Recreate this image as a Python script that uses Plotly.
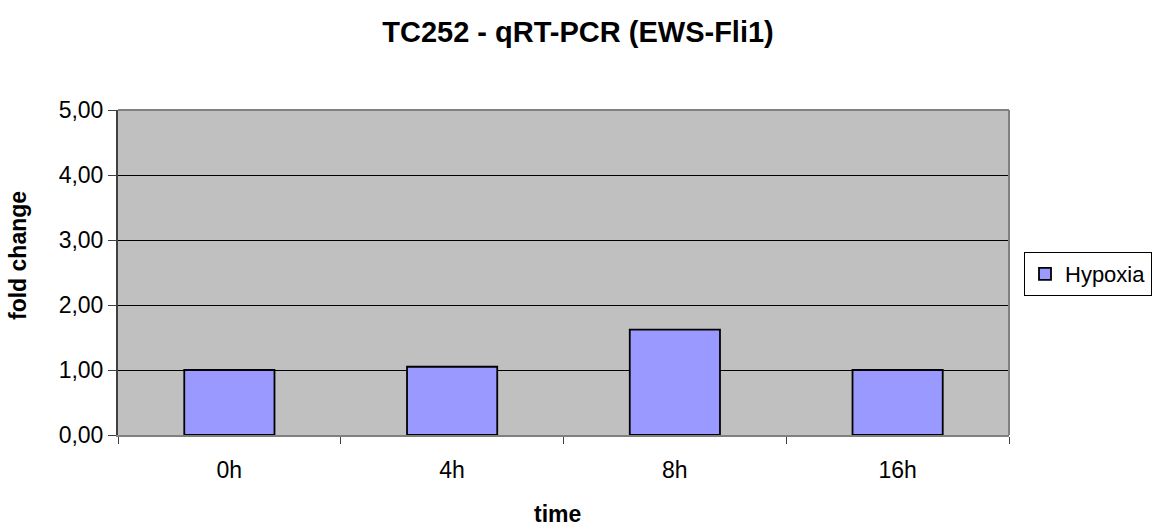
import plotly.graph_objects as go

categories = ["0h", "4h", "8h", "16h"]
hypoxia = [1.00, 1.05, 1.62, 1.00]
series_name = "Hypoxia"
title_text = "TC252 - qRT-PCR (EWS-Fli1)"
x_title = "time"
y_title = "fold change"

L, R, T, B = 118, 151, 110, 95
W, H = 1160, 530
PH = H - T - B  # plot height in px
PW = W - L - R

FONT = "Arial, Liberation Sans, sans-serif"

fig = go.Figure()
fig.add_trace(go.Bar(
    x=categories, y=hypoxia, name=series_name,
    marker=dict(color="#9999FF", line=dict(color="black", width=1.8)),
    showlegend=True,
))

fig.update_layout(
    width=W, height=H,
    margin=dict(l=L, r=R, t=T, b=B, autoexpand=False),
    paper_bgcolor="white",
    plot_bgcolor="#C0C0C0",
    separators=", ",
    bargap=0.595,
    font=dict(family=FONT, size=23, color="black"),
    title=dict(text="<b>" + title_text + "</b>", x=578 / W, xanchor="center",
               y=1 - 32 / H, yanchor="middle", font=dict(size=29)),
    showlegend=True,
    legend=dict(x=(1024 - L) / PW, xanchor="left", y=(H - B - 252) / PH, yanchor="top",
                bordercolor="black", borderwidth=1, bgcolor="white",
                font=dict(size=22), tracegroupgap=0),
    xaxis=dict(
        showline=True, linecolor="#808080", linewidth=1.5,
        ticks="outside", tickson="boundaries", ticklen=7, tickcolor="#404040",
        ticklabelstandoff=14,
        mirror=False, showgrid=False,
    ),
    yaxis=dict(
        range=[0, 5], dtick=1, tickformat=".2f",
        showline=True, linecolor="#404040", linewidth=2,
        ticks="outside", ticklen=8, tickcolor="#404040",
        showgrid=True, gridcolor="black", gridwidth=1,
        zeroline=False,
    ),
    annotations=[
        dict(text="<b>" + x_title + "</b>", xref="paper", yref="paper",
             x=(557 - L) / PW, y=-(514 - (H - B)) / PH, xanchor="center", yanchor="middle",
             showarrow=False, font=dict(size=23)),
        dict(text="<b>" + y_title + "</b>", xref="paper", yref="paper",
             x=-(L - 18) / PW, y=(H - B - 256) / PH, xanchor="center", yanchor="middle",
             textangle=-90, showarrow=False, font=dict(size=23)),
    ],
)

# top and right border of plot area
fig.add_shape(type="line", xref="paper", yref="paper", x0=0, x1=1, y0=1, y1=1,
              line=dict(color="#808080", width=2))
fig.add_shape(type="line", xref="paper", yref="paper", x0=1, x1=1, y0=0, y1=1,
              line=dict(color="#808080", width=2))

fig.write_html("out.html")
